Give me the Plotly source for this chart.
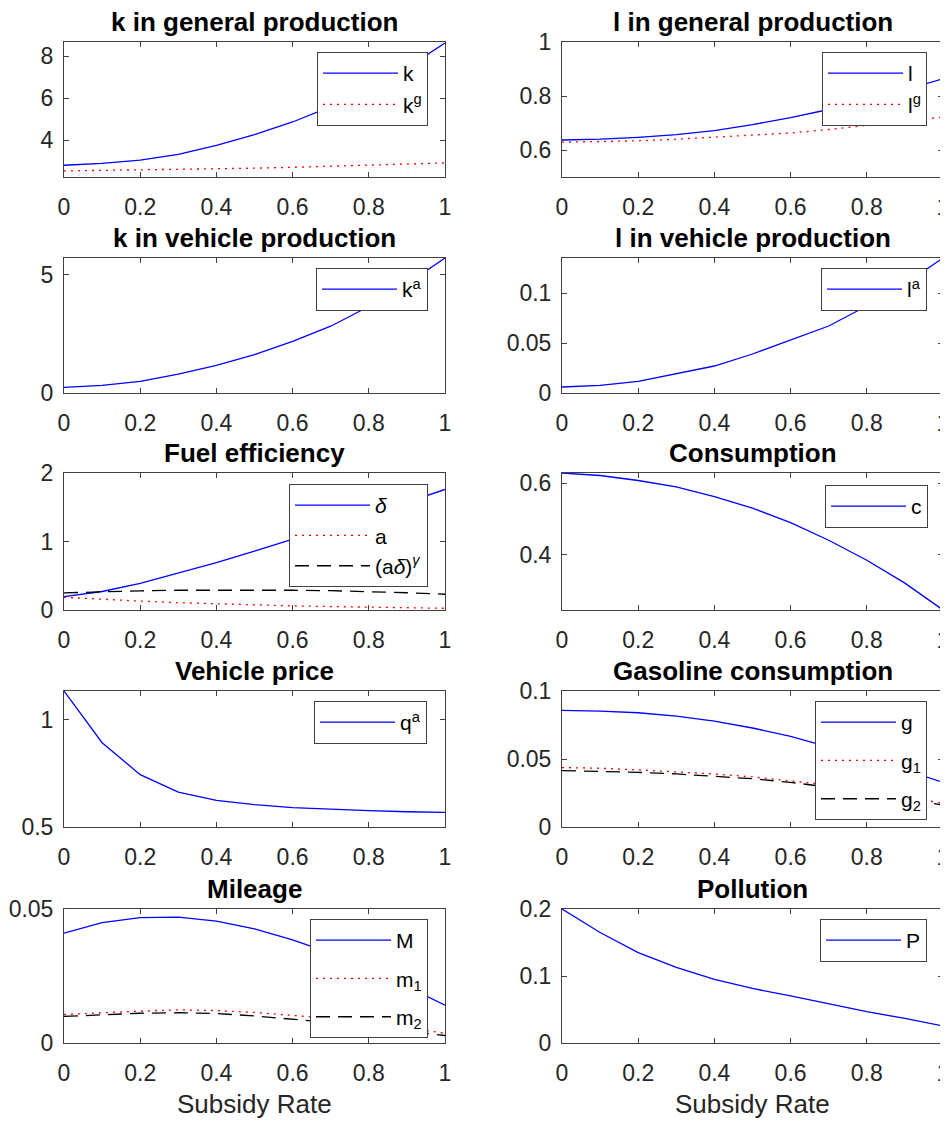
import plotly.graph_objects as go

W, H = 948, 1122
OFF = 8  # page body margin offset

subsidy = [0.0, 0.1, 0.2, 0.3, 0.4, 0.5, 0.6, 0.7, 0.8, 0.9, 1.0]

k = [2.81, 2.90, 3.05, 3.33, 3.76, 4.27, 4.87, 5.60, 6.45, 7.45, 8.63]
kg = [2.54, 2.56, 2.58, 2.61, 2.64, 2.67, 2.71, 2.76, 2.81, 2.86, 2.92]
l = [0.637, 0.640, 0.647, 0.657, 0.672, 0.694, 0.720, 0.750, 0.785, 0.823, 0.864]
lg = [0.629, 0.631, 0.634, 0.640, 0.647, 0.654, 0.663, 0.676, 0.691, 0.705, 0.722]
ka = [0.24, 0.32, 0.49, 0.80, 1.17, 1.62, 2.18, 2.82, 3.65, 4.60, 5.70]
la = [0.0060, 0.0077, 0.0117, 0.0190, 0.0270, 0.0390, 0.0530, 0.0670, 0.0870, 0.1090, 0.1350]
delta = [0.195, 0.27, 0.39, 0.54, 0.69, 0.86, 1.03, 1.20, 1.38, 1.57, 1.76]
a = [0.185, 0.155, 0.13, 0.107, 0.088, 0.072, 0.06, 0.05, 0.04, 0.032, 0.025]
adg = [0.25, 0.27, 0.28, 0.288, 0.29, 0.29, 0.288, 0.282, 0.27, 0.252, 0.23]
c = [0.628, 0.621, 0.607, 0.589, 0.562, 0.530, 0.489, 0.440, 0.384, 0.320, 0.245]
qa = [1.134, 0.893, 0.744, 0.663, 0.624, 0.604, 0.590, 0.582, 0.576, 0.571, 0.568]
g = [0.0857, 0.0852, 0.0840, 0.0815, 0.0778, 0.0728, 0.0667, 0.0590, 0.0510, 0.0420, 0.0328]
g1 = [0.0437, 0.0432, 0.0420, 0.0407, 0.0390, 0.0368, 0.0340, 0.0310, 0.0270, 0.0225, 0.0173]
g2 = [0.0415, 0.0410, 0.0402, 0.0390, 0.0375, 0.0355, 0.0328, 0.0295, 0.0258, 0.0210, 0.0160]
M = [0.0410, 0.0449, 0.0468, 0.0470, 0.0455, 0.0426, 0.0385, 0.0335, 0.0280, 0.0212, 0.0141]
m1 = [0.0106, 0.0113, 0.0119, 0.0124, 0.0121, 0.0114, 0.0104, 0.0092, 0.0077, 0.0058, 0.0036]
m2 = [0.0099, 0.0106, 0.0111, 0.0113, 0.0110, 0.0101, 0.0089, 0.0076, 0.0061, 0.0045, 0.0028]
P = [0.200, 0.165, 0.135, 0.113, 0.095, 0.0814, 0.0702, 0.0585, 0.0468, 0.0366, 0.0254]

titles = ["k in general production", "l in general production",
          "k in vehicle production", "l in vehicle production",
          "Fuel efficiency", "Consumption",
          "Vehicle price", "Gasoline consumption",
          "Mileage", "Pollution"]
x_title = "Subsidy Rate"

y_ranges = [[2.25, 8.68], [0.5, 1.0], [0, 5.7], [0, 0.135], [0, 2], [0.245, 0.628],
            [0.5, 1.134], [0, 0.1], [0, 0.05], [0, 0.2]]
y_ticks = [[4, 6, 8], [0.6, 0.8, 1], [0, 5], [0, 0.05, 0.1], [0, 1, 2], [0.4, 0.6],
           [0.5, 1], [0, 0.05, 0.1], [0, 0.05], [0, 0.1, 0.2]]
y_ticktext = [["4", "6", "8"], ["0.6", "0.8", "1"], ["0", "5"], ["0", "0.05", "0.1"],
              ["0", "1", "2"], ["0.4", "0.6"], ["0.5", "1"], ["0", "0.05", "0.1"],
              ["0", "0.05"], ["0", "0.1", "0.2"]]
x_ticks = [0, 0.2, 0.4, 0.6, 0.8, 1]
x_ticktext = ["0", "0.2", "0.4", "0.6", "0.8", "1"]

BLUE, RED, BLACK = "#0000ff", "#ff0000", "#000000"
SOLID, DOT, DASH = "solid", "2px,5px", "14px,8px"

# panel: list of (y, name, color, dash)
panels = [
    [(k, "k", BLUE, SOLID), (kg, "k<sup>g</sup>", RED, DOT)],
    [(l, "l", BLUE, SOLID), (lg, "l<sup>g</sup>", RED, DOT)],
    [(ka, "k<sup>a</sup>", BLUE, SOLID)],
    [(la, "l<sup>a</sup>", BLUE, SOLID)],
    [(delta, "<i>δ</i>", BLUE, SOLID), (a, "a", RED, DOT), (adg, "(a<i>δ</i>)<sup><i>γ</i></sup>", BLACK, DASH)],
    [(c, "c", BLUE, SOLID)],
    [(qa, "q<sup>a</sup>", BLUE, SOLID)],
    [(g, "g", BLUE, SOLID), (g1, "g<sub>1</sub>", RED, DOT), (g2, "g<sub>2</sub>", BLACK, DASH)],
    [(M, "M", BLUE, SOLID), (m1, "m<sub>1</sub>", RED, DOT), (m2, "m<sub>2</sub>", BLACK, DASH)],
    [(P, "P", BLUE, SOLID)],
]

# layout geometry in screen pixels
col_x = [(64, 445), (562, 943)]
row_y = [(42, 177), (258, 393), (473, 610), (691, 827), (909, 1043)]
legend_pos = [(428, 52), (927, 52), (428, 268), (927, 268), (428, 484), (928, 485),
              (427, 701), (927, 701), (428, 919), (927, 919)]
legend_gap = [1, 1, 0, 0, 0, 0, 0, 8, 8, 0]

FONT = "Liberation Sans, Arial, Helvetica, sans-serif"
AXC = "#404040"

def px_x(p):
    return (p - OFF) / W

def px_y(p):
    return 1 - (p - OFF) / H

fig = go.Figure()
layout = dict(
    width=W, height=H,
    margin=dict(l=0, r=0, t=0, b=0, autoexpand=False),
    paper_bgcolor="white", plot_bgcolor="white",
    font=dict(family=FONT, size=23, color="#262626"),
    showlegend=True,
    annotations=[],
)

for i in range(10):
    r, cidx = divmod(i, 2)
    n = i + 1
    xa = "xaxis" if n == 1 else f"xaxis{n}"
    ya = "yaxis" if n == 1 else f"yaxis{n}"
    xref = "x" if n == 1 else f"x{n}"
    yref = "y" if n == 1 else f"y{n}"
    lg_name = "legend" if n == 1 else f"legend{n}"
    x0, x1 = col_x[cidx]
    y0, y1 = row_y[r]
    common = dict(showline=True, linecolor=AXC, linewidth=1, mirror="ticks",
                  ticks="inside", ticklen=5, tickcolor=AXC, tickwidth=1,
                  showgrid=False, zeroline=False, automargin=False,
                  tickfont=dict(family=FONT, size=23, color="#262626"))
    layout[xa] = dict(domain=[px_x(x0), px_x(x1)], anchor=yref, range=[0, 1],
                      tickvals=x_ticks, ticktext=x_ticktext,
                      ticklabelstandoff=9, **common)
    layout[ya] = dict(domain=[px_y(y1), px_y(y0)], anchor=xref, range=y_ranges[i],
                      tickvals=y_ticks[i], ticktext=y_ticktext[i],
                      ticklabelstandoff=5, **common)
    lx, ly = legend_pos[i]
    layout[lg_name] = dict(x=px_x(lx), y=px_y(ly), xanchor="right", yanchor="top",
                           xref="paper", yref="paper",
                           bgcolor="white", bordercolor=AXC, borderwidth=1,
                           font=dict(family=FONT, size=21, color="#000000"),
                           itemwidth=75, tracegroupgap=legend_gap[i], traceorder="grouped")
    for (yy, name, color, dash) in panels[i]:
        fig.add_trace(go.Scatter(x=subsidy, y=yy, mode="lines", name=name,
                                 line=dict(color=color, width=1.3, dash=dash),
                                 xaxis=xref, yaxis=yref, legend=lg_name,
                                 legendgroup=f"{i}-{name}"))
    layout["annotations"].append(dict(
        text=f"<b>{titles[i]}</b>", x=(px_x(x0) + px_x(x1)) / 2, y=px_y(y0),
        xref="paper", yref="paper", xanchor="center", yanchor="bottom", yshift=3,
        showarrow=False, font=dict(family=FONT, size=26, color="#000000")))

for cidx in range(2):
    x0, x1 = col_x[cidx]
    layout["annotations"].append(dict(
        text=x_title, x=(px_x(x0) + px_x(x1)) / 2, y=px_y(1104),
        xref="paper", yref="paper", xanchor="center", yanchor="middle",
        showarrow=False, font=dict(family=FONT, size=26, color="#262626")))

fig.update_layout(**layout)
fig.write_html("out.html")
